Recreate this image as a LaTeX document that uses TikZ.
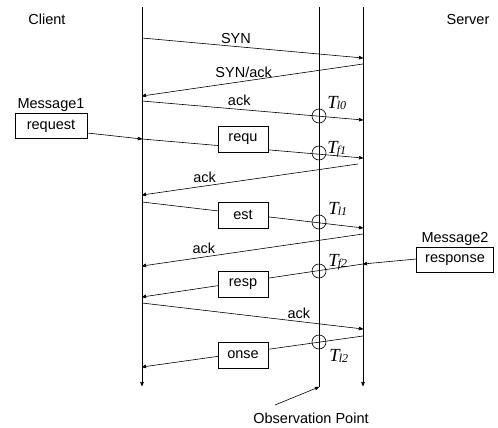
\documentclass[tikz,border=0pt]{standalone}
\usepackage{fontspec}
\setmainfont{Liberation Sans}
\newfontfamily\tfont{Liberation Serif}
\usetikzlibrary{positioning,arrows}

\newcommand{\tobs}[2]{{\tfont\itshape #1\kern-0.8pt\raisebox{-1.5pt}{\fontsize{12}{12}\selectfont #2}}}

\begin{document}
\begin{tikzpicture}[x=1pt,y=-1pt,>=stealth',line width=0.6pt,
    font=\fontsize{14.5}{16}\selectfont,
    msgbox/.style={draw,fill=white,minimum width=50pt,minimum height=26pt,inner sep=0pt},
    outbox/.style={draw,fill=white,minimum width=72pt,minimum height=25pt,inner sep=0pt},
    probe/.style={circle,draw,minimum size=14pt,inner sep=0pt},
    tstamp/.style={font=\fontsize{18.5}{18.5}\selectfont,inner sep=0pt,anchor=base west},
    lbl/.style={above,inner sep=3pt}]

  \useasboundingbox (0,0) rectangle (498,428);

  % lifelines
  \coordinate (ctop) at (142,7);
  \coordinate (cbot) at (142,386);
  \coordinate (otop) at (319,7);
  \coordinate (obot) at (319,387);
  \coordinate (stop) at (363,7);
  \coordinate (sbot) at (363,386);
  \draw[->] (ctop) -- (cbot);
  \draw (otop) -- (obot);
  \draw[->] (stop) -- (sbot);

  \node (client) at (47,19) {Client};
  \node (server) at (468,20) {Server};

  % end points on the lifelines
  \coordinate (c1) at (142,38);  \coordinate (s1) at (363,58);
  \coordinate (s2) at (363,64);  \coordinate (c2) at (142,96);
  \coordinate (c3) at (142,101); \coordinate (s3) at (363,120);
  \coordinate (c4) at (142,139); \coordinate (s4) at (363,158);
  \coordinate (s5) at (358,164); \coordinate (c5) at (142,195);
  \coordinate (c6) at (142,202); \coordinate (s6) at (363,228);
  \coordinate (s7) at (363,234); \coordinate (c7) at (142,266);
  \coordinate (s8) at (363,264); \coordinate (c8) at (142,297);
  \coordinate (c9) at (142,303); \coordinate (s9) at (363,329);
  \coordinate (s10) at (363,336); \coordinate (c10) at (142,367);

  % messages
  \draw[->] (c1) -- node[lbl,pos=0.425] {SYN} (s1);
  \draw[->] (s2) -- node[lbl,pos=0.54] {SYN/ack} (c2);
  \draw[->] (c3) -- node[lbl,pos=0.44] {ack} (s3);
  \draw[->] (c4) -- (s4);
  \draw[->] (s5) -- node[lbl,pos=0.71] {ack} (c5);
  \draw[->] (c6) -- (s6);
  \draw[->] (s7) -- node[lbl,pos=0.72] {ack} (c7);
  \draw[->] (s8) -- (c8);
  \draw[->] (c9) -- node[lbl,pos=0.71] {ack} (s9);
  \draw[->] (s10) -- (c10);

  % segments
  \node[msgbox] (requ) at (243,139) {requ};
  \node[msgbox] (est) at (243,215) {est};
  \node[msgbox] (resp) at (243,284) {resp};
  \node[msgbox] (onse) at (243,355) {onse};

  % application messages
  \node[outbox] (msg1) at (51,126) {request};
  \node[above=0pt of msg1,inner sep=1pt] {Message1};
  \draw[->] ([yshift=-7pt]msg1.east) -- (c4);

  \node[outbox,minimum width=77pt] (msg2) at (455,260) {response};
  \node[above=0pt of msg2,inner sep=1pt] {Message2};
  \draw[->] ([yshift=1pt]msg2.west) -- (s8);

  % observation point
  \node[probe] (p0) at (319,116) {};
  \node[probe] (p1) at (319,153) {};
  \node[probe] (p2) at (319,222) {};
  \node[probe] (p3) at (319,271) {};
  \node[probe] (p4) at (319,342) {};
  \node[tstamp] at ([shift={(8,-8)}]p0) {\tobs{T}{l0}};
  \node[tstamp] at ([shift={(8,0)}]p1) {\tobs{T}{f1}};
  \node[tstamp] at ([shift={(9,-8)}]p2) {\tobs{T}{l1}};
  \node[tstamp] at ([shift={(9,-5)}]p3) {\tobs{T}{f2}};
  \node[tstamp] at ([shift={(10,19)}]p4) {\tobs{T}{l2}};

  \node (obs) at (311,418) {Observation Point};
  \coordinate (obstail) at (275,405);
  \draw[->] (obstail) -- (obot);
\end{tikzpicture}
\end{document}
